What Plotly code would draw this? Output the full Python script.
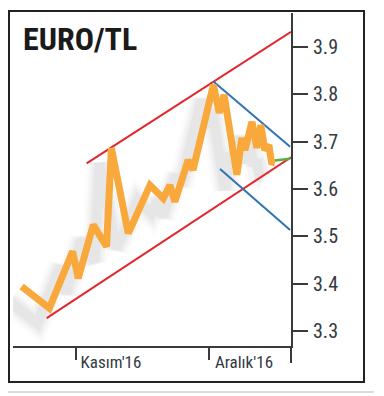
import plotly.graph_objects as go

# ---- data (day offset from 1 Nov 2016, EUR/TRY) ----
days = [-12.25, -6.0, -0.75, 0.5, 3.9, 6.9, 8.0, 11.8, 16.7, 19.7, 21.2, 22.3, 25.3, 26.4,
        31.0, 32.3, 33.4, 34.5, 36.3, 37.4, 38.1, 39.7, 40.8, 41.7, 42.6, 43.5, 44.1, 44.9]
rates = [3.394, 3.348, 3.468, 3.411, 3.524, 3.478, 3.686, 3.506, 3.608, 3.580, 3.608, 3.573,
         3.661, 3.640, 3.820, 3.761, 3.799, 3.735, 3.630, 3.708, 3.682, 3.742, 3.687, 3.735,
         3.682, 3.693, 3.657, 3.655]

red_upper_days = [2.4, 48.5]
red_upper_vals = [3.654, 3.932]
red_lower_days = [-6.6, 48.5]
red_lower_vals = [3.327, 3.667]
blue_upper_days = [31.0, 48.3]
blue_upper_vals = [3.827, 3.689]
blue_lower_days = [32.5, 48.3]
blue_lower_vals = [3.642, 3.513]
green_days = [44.9, 48.3]
green_vals = [3.660, 3.664]

tick_days = [0, 30]
tick_text = ["Kasım'16", "Aralık'16"]
y_ticks = [3.3, 3.4, 3.5, 3.6, 3.7, 3.8, 3.9]

title_text = "EURO/TL"

# ---- layout geometry (page pixels; the page body adds an 8px margin) ----
OFF = 8
W, H = 384 - OFF, 396 - OFF
L, R, T, B = 13 - OFF, 291 - OFF, 13 - OFF, 346 - OFF
x_range = [-14.2, 48.5]
y_range = [3.268, 3.972]
px_per_day = (R - L) / (x_range[1] - x_range[0])
px_per_unit = (B - T) / (y_range[1] - y_range[0])
shadow_dx, shadow_dy = 12, 15  # shadow offset in px (left, down)


def px_x(p):
    return (p - OFF - L) / (R - L)


def px_y(p):
    return (B - (p - OFF)) / (B - T)


FONT = "Liberation Sans Narrow, Roboto Condensed, Arial Narrow, sans-serif"

fig = go.Figure()

# soft shadow of the price line (on the hidden, offset base axes)
for w, a in [(26, 0.025), (20, 0.03), (15, 0.04), (10, 0.045)]:
    fig.add_trace(go.Scatter(x=days, y=rates, mode="lines", xaxis="x", yaxis="y",
                             line=dict(color=f"rgba(70,70,70,{a})", width=w, shape="linear"),
                             hoverinfo="skip", showlegend=False))

# channel lines
fig.add_trace(go.Scatter(x=red_upper_days, y=red_upper_vals, mode="lines", xaxis="x2", yaxis="y2",
                         line=dict(color="#e3262d", width=2), showlegend=False))
fig.add_trace(go.Scatter(x=red_lower_days, y=red_lower_vals, mode="lines", xaxis="x2", yaxis="y2",
                         line=dict(color="#e3262d", width=2), showlegend=False))
fig.add_trace(go.Scatter(x=blue_upper_days, y=blue_upper_vals, mode="lines", xaxis="x2", yaxis="y2",
                         line=dict(color="#2f73b5", width=2), showlegend=False))
fig.add_trace(go.Scatter(x=blue_lower_days, y=blue_lower_vals, mode="lines", xaxis="x2", yaxis="y2",
                         line=dict(color="#2f73b5", width=2), showlegend=False))

# price line
fig.add_trace(go.Scatter(x=days, y=rates, mode="lines", xaxis="x2", yaxis="y2",
                         line=dict(color="#f9a83c", width=7, shape="linear"),
                         showlegend=False))
fig.add_trace(go.Scatter(x=green_days, y=green_vals, mode="lines", xaxis="x2", yaxis="y2",
                         line=dict(color="#5aaf3c", width=2.5), showlegend=False))

fig.update_layout(
    width=W, height=H,
    margin=dict(l=L, r=W - R, t=T, b=H - B, pad=0),
    paper_bgcolor="white", plot_bgcolor="rgba(0,0,0,0)",
    showlegend=False,
    xaxis=dict(visible=False, range=[x_range[0] + shadow_dx / px_per_day, x_range[1] + shadow_dx / px_per_day]),
    yaxis=dict(visible=False, range=[y_range[0] + shadow_dy / px_per_unit, y_range[1] + shadow_dy / px_per_unit]),
    xaxis2=dict(overlaying="x", range=x_range, showgrid=False, zeroline=False,
                showline=True, linecolor="#3a3a3a", linewidth=2,
                ticks="outside", ticklen=12, tickwidth=2, tickcolor="#3a3a3a",
                tickvals=tick_days, ticktext=tick_text, ticklabelshift=35, ticklabelstandoff=-12,
                tickfont=dict(family=FONT, size=17, color="#333a44")),
    yaxis2=dict(overlaying="y", side="right", range=y_range, showgrid=False, zeroline=False,
                showline=True, linecolor="#3a3a3a", linewidth=2,
                ticks="outside", ticklen=15, tickwidth=2, tickcolor="#3a3a3a",
                tickvals=y_ticks, tickformat=".1f", ticklabelstandoff=1,
                tickfont=dict(family=FONT, size=20, color="#333a44")),
    shapes=[
        dict(type="rect", xref="paper", yref="paper", x0=px_x(9), x1=px_x(364), y0=px_y(382), y1=px_y(11),
             line=dict(color="#222222", width=2), fillcolor="rgba(0,0,0,0)", layer="above"),
        dict(type="line", xref="paper", yref="paper", x0=1, x1=1, y0=0, y1=px_y(363),
             line=dict(color="#3a3a3a", width=2)),
        dict(type="line", xref="paper", yref="paper", x0=px_x(8), x1=px_x(374), y0=px_y(392), y1=px_y(392),
             line=dict(color="#dcdcdc", width=2)),
    ],
    annotations=[
        dict(text=f"<b>{title_text}</b>", xref="paper", yref="paper", x=px_x(21), y=px_y(39),
             xanchor="left", yanchor="middle", showarrow=False,
             font=dict(family=FONT, size=32, color="#1a1a1a")),
    ],
)

fig.write_html("out.html")
